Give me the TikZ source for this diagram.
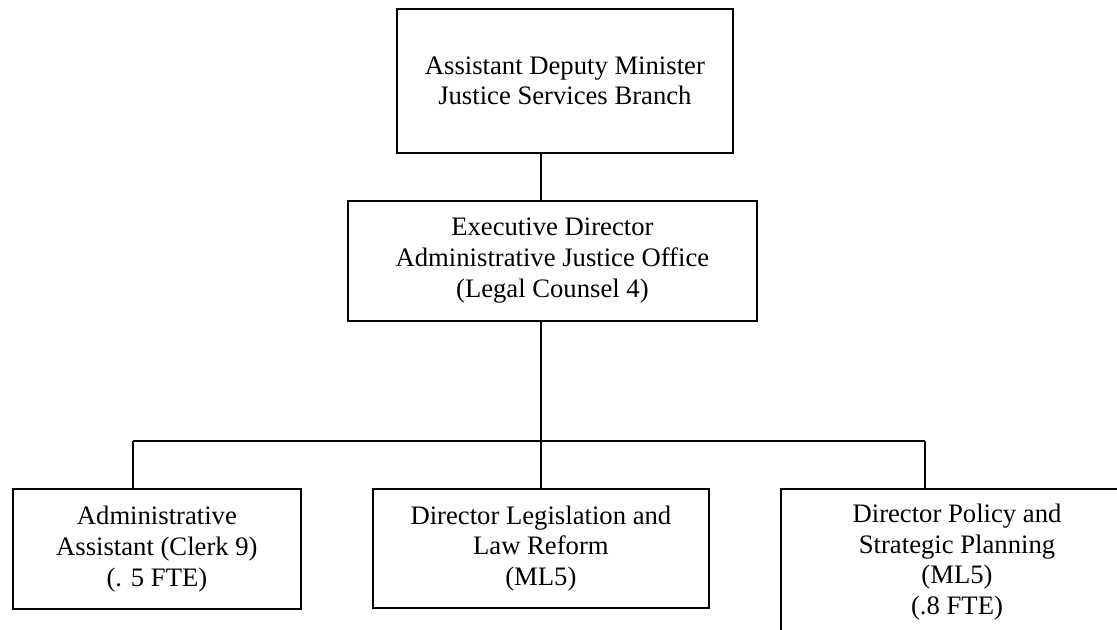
\documentclass[tikz,border=0pt]{standalone}
\usepackage{fontspec}
\setmainfont{Liberation Serif}
\begin{document}
\begin{tikzpicture}[x=0.75pt,y=-0.75pt,
  orgbox/.style={draw=black,line width=1.2pt,rectangle,align=center,inner sep=0pt,
    font=\fontsize{20}{23}\selectfont},
  link/.style={draw=black,line width=1.2pt}]
\useasboundingbox (0,0) rectangle (1117,629);
\clip (0,0) rectangle (1117,629);
\node[orgbox,minimum width=336.3*0.75pt,minimum height=143.7*0.75pt] (adm) at (564.9,80.9)
  {Assistant Deputy Minister\\Justice Services Branch};
\node[orgbox,minimum width=408.7*0.75pt,minimum height=120*0.75pt] (exd) at (552.4,260.7)
  {Executive Director\\Administrative Justice Office\\(Legal Counsel 4)};
\node[orgbox,minimum width=288.3*0.75pt,minimum height=120*0.75pt] (asst) at (156.9,549)
  {Administrative\\Assistant (Clerk 9)\\(. 5 FTE)};
\node[orgbox,minimum width=336.3*0.75pt,minimum height=119*0.75pt] (leg) at (540.9,548.5)
  {Director Legislation and\\Law Reform\\(ML5)};
\node[orgbox,minimum width=352.6*0.75pt,minimum height=146*0.75pt] (pol) at (957,562)
  {Director Policy and\\Strategic Planning\\(ML5)\\(.8 FTE)};
\coordinate (bus) at (541,441);
\coordinate (busL) at (132.7,441);
\coordinate (busR) at (925,441);
\draw[link] (adm.south -| bus) -- (exd.north -| bus);
\draw[link] (exd.south -| bus) -- (bus);
\draw[link] (busL) -- (busR);
\draw[link] (busL) -- (asst.north -| busL);
\draw[link] (bus) -- (leg.north -| bus);
\draw[link] (busR) -- (pol.north -| busR);
\end{tikzpicture}
\end{document}
